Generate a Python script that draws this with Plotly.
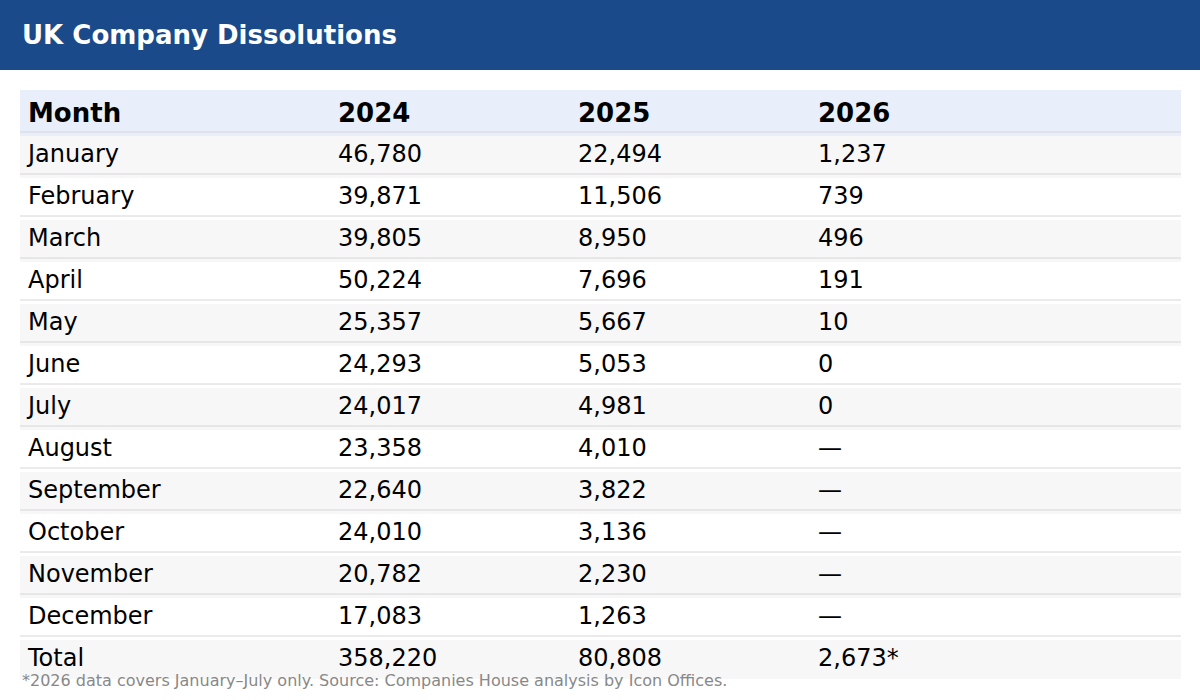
import plotly.graph_objects as go

months = ["January", "February", "March", "April", "May", "June", "July",
          "August", "September", "October", "November", "December"]
v2024 = [46780, 39871, 39805, 50224, 25357, 24293, 24017, 23358, 22640, 24010, 20782, 17083]
v2025 = [22494, 11506, 8950, 7696, 5667, 5053, 4981, 4010, 3822, 3136, 2230, 1263]
v2026 = [1237, 739, 496, 191, 10, 0, 0, None, None, None, None, None]
headers = ["Month", "2024", "2025", "2026"]
title = "UK Company Dissolutions"
footnote = "*2026 data covers January\u2013July only. Source: Companies House analysis by Icon Offices."

W, H = 1200, 700
TOP, LEFT, RIGHT = 90, 20, 1181
ROW_H = 42


def fmt(v):
    return "\u2014" if v is None else f"{v:,}"


col_month = months + ["Total"]
col_2024 = [fmt(v) for v in v2024] + [fmt(sum(v2024))]
col_2025 = [fmt(v) for v in v2025] + [fmt(sum(v2025))]
col_2026 = [fmt(v) for v in v2026] + [fmt(sum(v for v in v2026 if v is not None)) + "*"]

n_rows = len(col_month)
row_fill = ["#f7f7f7" if i % 2 == 0 else "#ffffff" for i in range(n_rows)]
bottom = TOP + ROW_H * (n_rows + 1)

fig = go.Figure(go.Table(
    domain=dict(x=[LEFT / W, RIGHT / W], y=[1 - (bottom + 1) / H, 1 - TOP / H]),
    columnwidth=[310, 240, 240, 371],
    header=dict(
        values=[f"<b>{h}</b>" for h in headers],
        fill_color="#e8effa",
        line=dict(width=0, color="rgba(0,0,0,0)"),
        align="left",
        height=ROW_H,
        font=dict(family="DejaVu Sans", size=26, color="#000000"),
    ),
    cells=dict(
        values=[col_month, col_2024, col_2025, col_2026],
        fill_color=[row_fill] * 4,
        line=dict(width=0, color="rgba(0,0,0,0)"),
        align="left",
        height=ROW_H,
        font=dict(family="DejaVu Sans", size=24, color="#000000"),
    ),
))

shapes = [dict(type="rect", xref="paper", yref="paper", x0=0, x1=1,
               y0=1 - 70 / H, y1=1, fillcolor="#1b4a8b", line=dict(width=0), layer="below")]
for k in range(n_rows):
    yy = TOP + ROW_H * (k + 1)
    shapes.append(dict(type="line", xref="paper", yref="paper",
                       x0=LEFT / W, x1=RIGHT / W, y0=1 - yy / H, y1=1 - yy / H,
                       line=dict(color="#d6d6d6", width=1)))

fig.update_layout(
    width=W, height=H,
    margin=dict(l=0, r=0, t=0, b=0),
    paper_bgcolor="#ffffff",
    plot_bgcolor="#ffffff",
    shapes=shapes,
    annotations=[
        dict(text=f"<b>{title}</b>", x=LEFT / W, y=1 - 35 / H, xref="paper", yref="paper",
             xanchor="left", yanchor="middle", showarrow=False,
             font=dict(family="DejaVu Sans", size=26, color="#ffffff")),
        dict(text=footnote, x=LEFT / W, y=1 - 680 / H, xref="paper", yref="paper",
             xanchor="left", yanchor="middle", showarrow=False,
             font=dict(family="DejaVu Sans", size=16, color="#888888")),
    ],
)

fig.write_html(
    "out.html",
    config={"displayModeBar": False},
    post_script="document.body.style.margin='0';document.body.style.overflow='hidden';",
)
